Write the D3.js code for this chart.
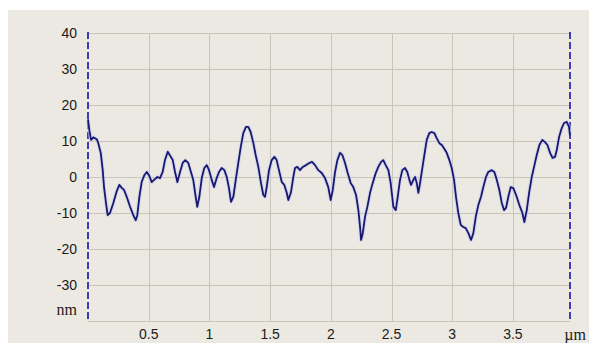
<!DOCTYPE html>
<html><head><meta charset="utf-8">
<script src="https://cdn.jsdelivr.net/npm/d3@7"></script>
<style>html,body{margin:0;padding:0;background:#fff;}svg{display:block;}</style>
</head><body>
<svg id="chart" width="589" height="343"></svg>
<script>
const xPos = [0,0.011,0.025,0.044,0.072,0.082,0.105,0.121,0.132,0.148,0.162,0.181,0.208,0.236,0.258,0.278,0.297,0.319,0.346,0.373,0.393,0.406,0.423,0.442,0.464,0.484,0.502,0.525,0.544,0.571,0.593,0.615,0.634,0.657,0.675,0.698,0.717,0.736,0.758,0.780,0.801,0.826,0.848,0.867,0.887,0.900,0.917,0.937,0.958,0.978,0.997,1.019,1.038,1.060,1.079,1.101,1.123,1.143,1.161,1.178,1.197,1.217,1.238,1.258,1.279,1.301,1.320,1.340,1.362,1.381,1.403,1.425,1.444,1.458,1.472,1.491,1.513,1.535,1.554,1.573,1.596,1.617,1.637,1.650,1.672,1.691,1.705,1.724,1.746,1.769,1.796,1.823,1.845,1.870,1.897,1.925,1.952,1.979,1.999,2.016,2.035,2.054,2.076,2.095,2.117,2.139,2.164,2.185,2.208,2.227,2.241,2.249,2.263,2.282,2.301,2.323,2.345,2.370,2.391,2.414,2.432,2.452,2.474,2.493,2.515,2.535,2.551,2.570,2.589,2.611,2.630,2.647,2.661,2.680,2.694,2.708,2.721,2.735,2.749,2.768,2.790,2.811,2.831,2.853,2.872,2.894,2.914,2.932,2.955,2.976,2.996,3.015,3.031,3.050,3.070,3.091,3.111,3.133,3.155,3.174,3.194,3.215,3.237,3.256,3.278,3.297,3.325,3.347,3.367,3.388,3.408,3.427,3.443,3.462,3.482,3.503,3.526,3.553,3.578,3.594,3.614,3.633,3.655,3.674,3.696,3.718,3.742,3.764,3.784,3.806,3.826,3.847,3.861,3.880,3.902,3.921,3.943,3.962,3.970];
const heightNm = [16,13,10.3,11,10.5,9.7,6.7,2,-2.8,-7.2,-10.6,-10,-7.3,-4,-2.2,-3,-3.6,-5.5,-8.2,-10.6,-12,-10.6,-5.5,-1.4,0.5,1.4,0.5,-1.4,-0.8,0,-0.3,1.4,4.7,7,6,4.7,1.4,-1.4,1.4,3.9,4.7,3.9,1.4,-0.8,-5.5,-8.3,-5.5,-0.3,2.5,3.3,1.9,-0.8,-2.8,-0.3,1.4,2.5,1.9,0,-3.1,-6.9,-5.5,-0.8,3.9,8.3,12.2,13.9,13.9,12.5,9.4,6.1,2.8,-1.7,-5,-5.5,-2.8,1.9,4.7,5.6,4.7,1.9,-1.4,-2.2,-4.4,-6.4,-4.2,0,2.5,2.8,1.9,2.8,3.3,3.9,4.2,3.3,1.9,1.1,-0.3,-2.8,-6.4,-3.6,1.4,4.7,6.7,6.1,3.9,1.1,-1.7,-2.8,-5,-9.2,-13.9,-17.5,-15.6,-11,-8.3,-4.4,-1.7,1.1,2.8,4.2,4.7,3.3,1.9,-1.7,-8.3,-9.2,-5.5,-0.8,1.9,2.5,1.4,-0.8,-2.2,-0.8,0,-1.7,-4.4,-1.7,1.4,5.6,10.3,12.2,12.5,12.2,10.8,9.4,8.9,8,6.7,4.7,2.5,-0.8,-5.5,-10,-13.3,-13.9,-14.2,-15.6,-17.5,-15.6,-11,-7.8,-5.5,-2.8,0,1.4,1.9,1.4,-0.8,-3.6,-7.2,-9.2,-8.6,-5.5,-2.8,-3.1,-5,-7.8,-10,-12.5,-9.2,-4.4,0,2.8,6.1,8.9,10.3,9.7,8.9,6.7,5.3,5.6,7.5,11.1,13.6,15,15.3,13.9,11.5];
const xTicks = [0.5,1,1.5,2,2.5,3,3.5];
const xTickLabels = ["0.5","1","1.5","2","2.5","3","3.5"];
const yTicks = [-40,-30,-20,-10,0,10,20,30,40];
const yTickLabels = ["-30","-20","-10","0","10","20","30","40"];
const yTickLabelValues = [-30,-20,-10,0,10,20,30,40];
const xUnit = "\u00b5m";
const yUnit = "nm";
const xMax = 3.97;

const svg = d3.select("#chart");
svg.append("rect").attr("x",8).attr("y",10).attr("width",581).attr("height",333).attr("fill","#ece9e2");

const x = d3.scaleLinear().domain([0, xMax]).range([88, 570]);
const y = d3.scaleLinear().domain([-40, 40]).range([321, 33]);

const grid = svg.append("g").attr("stroke","#c9c5bd").attr("stroke-width",1).attr("shape-rendering","crispEdges");
grid.selectAll("line.h").data(yTicks).join("line")
  .attr("x1", x(0)).attr("x2", x(xMax))
  .attr("y1", d => Math.round(y(d))+0.5).attr("y2", d => Math.round(y(d))+0.5);
grid.selectAll("line.v").data(xTicks).join("line")
  .attr("x1", d => Math.round(x(d))+0.5).attr("x2", d => Math.round(x(d))+0.5)
  .attr("y1", y(40)).attr("y2", y(-40));

const font = "Arial, 'Liberation Sans', sans-serif";
svg.append("g").selectAll("text").data(yTickLabelValues).join("text")
  .attr("x", 77).attr("y", d => y(d)).attr("dy","0.36em")
  .attr("text-anchor","end").attr("font-family",font).attr("font-size",14).attr("fill","#1a1a1a")
  .text((d,i) => yTickLabels[i]);
svg.append("text").attr("x",77).attr("y",y(-40)-11).attr("dy","0.3em")
  .attr("text-anchor","end").attr("font-family","'Liberation Serif', 'Times New Roman', serif").attr("font-size",16).attr("fill","#1a1a1a")
  .text(yUnit);

svg.append("g").selectAll("text").data(xTicks).join("text")
  .attr("x", d => x(d)).attr("y", 339)
  .attr("text-anchor","middle").attr("font-family",font).attr("font-size",14).attr("fill","#1a1a1a")
  .text((d,i) => xTickLabels[i]);
svg.append("text").attr("x",575).attr("y",340)
  .attr("text-anchor","middle").attr("font-family","'Liberation Serif', 'Times New Roman', serif").attr("font-size",16).attr("fill","#1a1a1a")
  .text(xUnit);

svg.append("g").selectAll("line").data([0, xMax]).join("line")
  .attr("x1", d => x(d)).attr("x2", d => x(d))
  .attr("y1", y(40)-1).attr("y2", y(-40)+1)
  .attr("stroke","#2a2ab4").attr("stroke-width",1.8).attr("stroke-dasharray","7,3");

const pts = xPos.map((d,i) => [d, heightNm[i]]);
const line = d3.line().x(d => x(d[0])).y(d => y(d[1])).curve(d3.curveLinear);
svg.append("path").datum(pts).attr("d", line)
  .attr("fill","none").attr("stroke","#c8cdf0").attr("stroke-width",4).attr("stroke-opacity",0.6).attr("stroke-linejoin","round");
svg.append("path").datum(pts).attr("d", line)
  .attr("fill","none").attr("stroke","#181870").attr("stroke-width",1.8).attr("stroke-linejoin","round");
</script>
</body></html>
